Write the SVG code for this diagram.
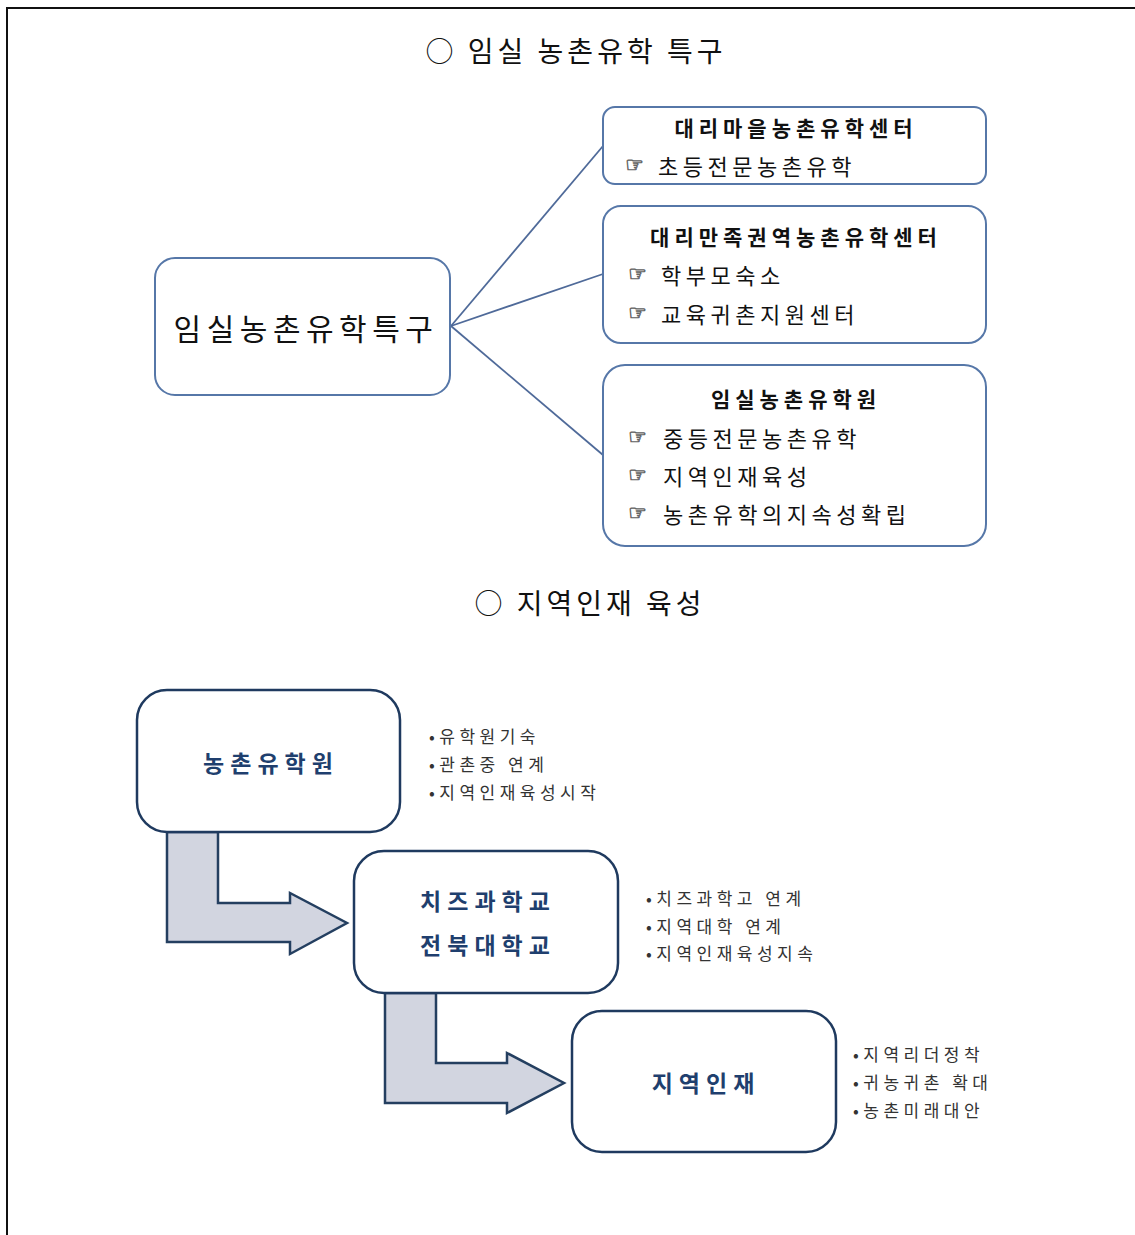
<svg xmlns="http://www.w3.org/2000/svg" width="1135" height="1235" viewBox="0 0 1135 1235">
<style>
text{font-family:"Noto Sans CJK KR","Noto Sans",sans-serif;dominant-baseline:central}
.frame{fill:none;stroke:#111;stroke-width:2}
.head{font-size:28px;fill:#111;letter-spacing:4px;text-anchor:middle}
.tbox{fill:#fff;stroke:#5677a8;stroke-width:2}
.conn{fill:none;stroke:#4f6a99;stroke-width:1.8}
.ttl{font-size:21px;font-weight:bold;fill:#111;letter-spacing:5px;text-anchor:middle}
.itm{font-size:22px;fill:#111;letter-spacing:4.5px}
.hand{font-family:"DejaVu Sans",sans-serif;font-size:21px;fill:#888;stroke:#666;stroke-width:0.8}
.main{font-size:30px;fill:#111;letter-spacing:5.5px;text-anchor:middle}
.bbox{fill:#fff;stroke:#1f3a5f;stroke-width:2.5}
.blbl{font-size:23px;font-weight:bold;fill:#1f3f6e;letter-spacing:6px;text-anchor:middle}
.arrow{fill:#d2d5e0;stroke:#243f60;stroke-width:2.5;stroke-linejoin:miter}
.bul{font-size:17px;fill:#333;letter-spacing:4.5px}
</style>
<path class="frame" d="M7,1235 V8 H1135"/>
<text class="head" x="576" y="50">○ 임실 농촌유학 특구</text>
<text class="head" x="590" y="602">○ 지역인재 육성</text>

<g id="connectors">
<line class="conn" x1="451" y1="326" x2="603" y2="146"/>
<line class="conn" x1="451" y1="326" x2="603" y2="274"/>
<line class="conn" x1="451" y1="326" x2="603" y2="455"/>
<path class="arrow" d="M167,832 V942 H290 V954 L347,923 L290,893 V903 H218 V832 Z"/>
<path class="arrow" d="M385,993 V1103 H507 V1113 L564,1083 L507,1053 V1063 H436 V993 Z"/>
</g>

<g id="node-main">
<rect class="tbox" x="155" y="258" width="295" height="137" rx="20"/>
<text class="main" x="306" y="327">임실농촌유학특구</text>
</g>

<g id="node-daeri-village">
<rect class="tbox" x="603" y="107" width="383" height="77" rx="12"/>
<text class="ttl" x="796" y="127">대리마을농촌유학센터</text>
<text class="hand" x="625" y="165">☞</text>
<text class="itm" x="658" y="165">초등전문농촌유학</text>
</g>

<g id="node-daeri-area">
<rect class="tbox" x="603" y="206" width="383" height="137" rx="18"/>
<text class="ttl" x="796" y="236">대리만족권역농촌유학센터</text>
<text class="hand" x="628" y="274">☞</text>
<text class="itm" x="661" y="274">학부모숙소</text>
<text class="hand" x="628" y="313">☞</text>
<text class="itm" x="661" y="313">교육귀촌지원센터</text>
</g>

<g id="node-imsil-academy">
<rect class="tbox" x="603" y="365" width="383" height="181" rx="22"/>
<text class="ttl" x="796" y="398">임실농촌유학원</text>
<text class="hand" x="628" y="437">☞</text>
<text class="itm" x="663" y="437">중등전문농촌유학</text>
<text class="hand" x="628" y="475">☞</text>
<text class="itm" x="663" y="475">지역인재육성</text>
<text class="hand" x="628" y="513">☞</text>
<text class="itm" x="663" y="513">농촌유학의지속성확립</text>
</g>

<g id="node-academy">
<rect class="bbox" x="137" y="690" width="263" height="142" rx="30"/>
<text class="blbl" x="271" y="762">농촌유학원</text>
<text class="bul" x="429" y="735">•유학원기숙</text>
<text class="bul" x="429" y="763">•관촌중 연계</text>
<text class="bul" x="429" y="791">•지역인재육성시작</text>
</g>

<g id="node-schools">
<rect class="bbox" x="354" y="851" width="264" height="142" rx="30"/>
<text class="blbl" x="488" y="900">치즈과학교</text>
<text class="blbl" x="488" y="944">전북대학교</text>
<text class="bul" x="646" y="897">•치즈과학고 연계</text>
<text class="bul" x="646" y="925">•지역대학 연계</text>
<text class="bul" x="646" y="952">•지역인재육성지속</text>
</g>

<g id="node-talent">
<rect class="bbox" x="572" y="1011" width="264" height="141" rx="30"/>
<text class="blbl" x="706" y="1082">지역인재</text>
<text class="bul" x="853" y="1053">•지역리더정착</text>
<text class="bul" x="853" y="1081">•귀농귀촌 확대</text>
<text class="bul" x="853" y="1109">•농촌미래대안</text>
</g>
</svg>
